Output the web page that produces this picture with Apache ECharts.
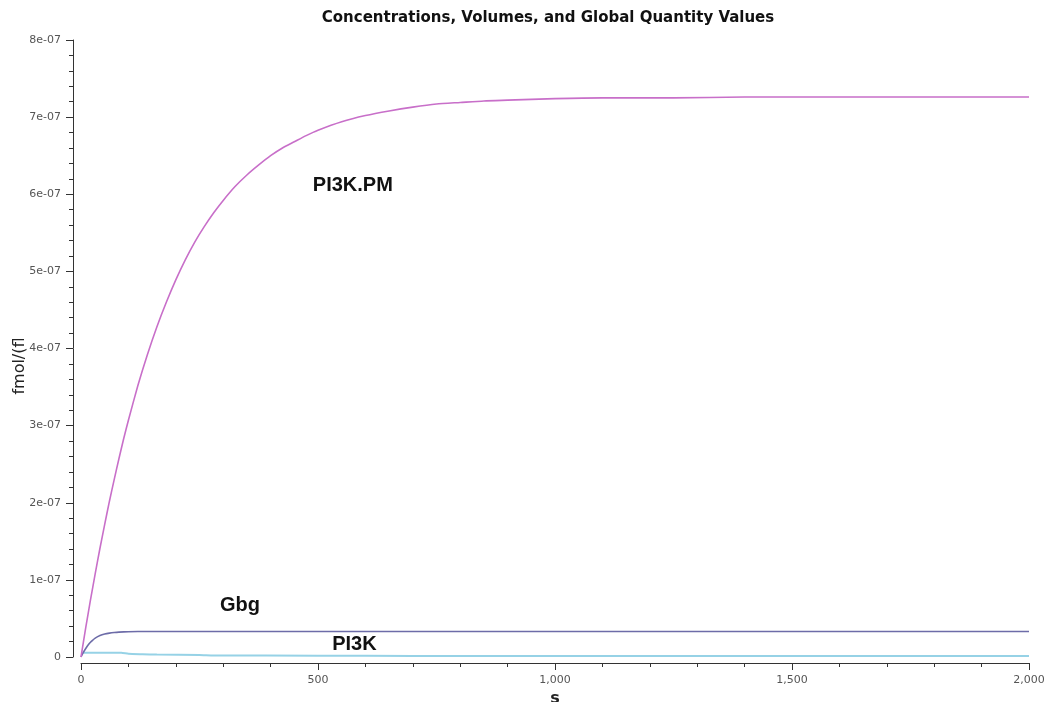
<!DOCTYPE html>
<html>
<head>
<meta charset="utf-8">
<title>Concentrations, Volumes, and Global Quantity Values</title>
<script src="https://cdn.jsdelivr.net/npm/echarts@6/dist/echarts.min.js"></script>
<style>
  html, body { margin: 0; padding: 0; background: #ffffff; }
  #chart { width: 1050px; height: 702px; }
</style>
</head>
<body>
<div id="chart"></div>
<script>
// Simulation time points (s) and species values (fmol/fl)
const timePM = [0, 10, 20, 30, 40, 50, 60, 70, 80, 90, 100, 120, 140, 160, 180, 200, 220, 240, 260, 280, 300,
                325, 350, 375, 400, 425, 450, 475, 500, 550, 600, 650, 700, 750, 800, 850, 900, 1000, 1100, 1250,
                1400, 1600, 1800, 2000];
const pi3kPM = [0, 0.38e-7, 0.74e-7, 1.08e-7, 1.41e-7, 1.72e-7, 2.02e-7, 2.30e-7, 2.57e-7, 2.83e-7, 3.07e-7,
                3.52e-7, 3.92e-7, 4.28e-7, 4.60e-7, 4.89e-7, 5.15e-7, 5.38e-7, 5.58e-7, 5.76e-7, 5.92e-7,
                6.10e-7, 6.25e-7, 6.38e-7, 6.50e-7, 6.60e-7, 6.68e-7, 6.76e-7, 6.83e-7, 6.94e-7, 7.02e-7,
                7.08e-7, 7.13e-7, 7.17e-7, 7.19e-7, 7.21e-7, 7.22e-7, 7.24e-7, 7.25e-7, 7.25e-7,
                7.26e-7, 7.26e-7, 7.26e-7, 7.26e-7];

const timeGbg = [0, 5, 10, 15, 20, 25, 30, 40, 50, 60, 70, 80, 100, 120, 200, 500, 1000, 1500, 2000];
const gbg     = [0, 0.6e-8, 1.1e-8, 1.55e-8, 1.92e-8, 2.2e-8, 2.45e-8, 2.78e-8, 2.98e-8, 3.1e-8, 3.18e-8,
                 3.23e-8, 3.28e-8, 3.3e-8, 3.3e-8, 3.3e-8, 3.3e-8, 3.3e-8, 3.3e-8];

const timePI3K = [0, 50, 85, 100, 130, 160, 250, 280, 500, 700, 1000, 1500, 2000];
const pi3k     = [5.6e-9, 5.5e-9, 5.4e-9, 4.2e-9, 3.6e-9, 3.1e-9, 2.7e-9, 2.1e-9, 1.6e-9, 1.4e-9, 1.3e-9, 1.3e-9, 1.3e-9];

// Tick settings
const xTicks = { min: 0, max: 2000, interval: 500 };
const yTicks = { min: 0, max: 8e-7, interval: 1e-7 };

// Curve annotations: [name, time, value]
const curveLabels = [
  ['PI3K.PM', 489, 6.12e-7],
  ['Gbg', 293, 0.674e-7],
  ['PI3K', 530, 0.156e-7]
];

function zip(xs, ys) { return xs.map((x, i) => [x, ys[i]]); }

function expLabel(v) {
  if (Math.abs(v) < 1e-20) return '0';
  const e = Math.floor(Math.log10(Math.abs(v)) + 1e-9);
  const m = Math.round(v / Math.pow(10, e) * 100) / 100;
  return m + 'e' + (e < 0 ? '-' : '+') + String(Math.abs(e)).padStart(2, '0');
}

function annotation(idx) {
  const [text, t, v] = curveLabels[idx];
  return {
    symbol: 'none',
    silent: true,
    data: [{
      coord: [t, v],
      symbol: 'circle',
      symbolSize: 0,
      label: {
        show: true,
        formatter: text,
        position: 'right',
        distance: 0,
        color: '#111',
        fontFamily: 'Liberation Sans, Arial, sans-serif',
        fontWeight: 'bold',
        fontSize: 20
      }
    }]
  };
}

const chart = echarts.init(document.getElementById('chart'), null, { renderer: 'canvas' });

const axisLabelStyle = {
  color: '#555',
  fontFamily: 'DejaVu Sans, Verdana, sans-serif',
  fontSize: 11
};

chart.setOption({
  animation: false,
  backgroundColor: '#ffffff',
  title: {
    text: 'Concentrations, Volumes, and Global Quantity Values',
    left: 543,
    textAlign: 'center',
    top: 6,
    textStyle: {
      color: '#111',
      fontFamily: 'DejaVu Sans, Verdana, sans-serif',
      fontWeight: 'bold',
      fontSize: 15
    }
  },
  grid: { left: 81, right: 21, top: 40, bottom: 45, containLabel: false, outerBoundsMode: 'none' },
  xAxis: {
    type: 'value',
    min: xTicks.min,
    max: xTicks.max,
    interval: xTicks.interval,
    offset: 6,
    name: 's',
    nameLocation: 'middle',
    nameGap: 26,
    nameTextStyle: {
      color: '#222',
      fontFamily: 'DejaVu Sans, Verdana, sans-serif',
      fontWeight: 'bold',
      fontSize: 16
    },
    axisLine: { show: true, onZero: false, lineStyle: { color: '#333', width: 1 } },
    axisTick: { show: true, inside: false, length: 7, lineStyle: { color: '#333' } },
    minorTick: { show: true, splitNumber: 5, length: 4, lineStyle: { color: '#333' } },
    splitLine: { show: false },
    axisLabel: Object.assign({
      margin: 12,
      formatter: v => v.toLocaleString('en-US')
    }, axisLabelStyle)
  },
  yAxis: {
    type: 'value',
    min: yTicks.min,
    max: yTicks.max,
    interval: yTicks.interval,
    offset: 8,
    axisLine: { show: true, onZero: false, lineStyle: { color: '#333', width: 1 } },
    axisTick: { show: true, inside: false, length: 7, lineStyle: { color: '#333' } },
    minorTick: { show: true, splitNumber: 5, length: 4, lineStyle: { color: '#333' } },
    splitLine: { show: false },
    axisLabel: Object.assign({
      margin: 12,
      formatter: expLabel
    }, axisLabelStyle)
  },
  graphic: [{
    type: 'text',
    x: 20,
    y: 366,
    rotation: Math.PI / 2,
    style: {
      text: 'fmol/(fl',
      fill: '#222',
      font: '16px "DejaVu Sans", Verdana, sans-serif',
      textAlign: 'center',
      textVerticalAlign: 'middle'
    }
  }],
  series: [
    {
      name: 'PI3K.PM',
      type: 'line',
      data: zip(timePM, pi3kPM),
      smooth: 0.2,
      showSymbol: false,
      lineStyle: { color: '#c86fc9', width: 1.6 },
      itemStyle: { color: '#c86fc9' },
      markPoint: annotation(0),
      z: 3
    },
    {
      name: 'Gbg',
      type: 'line',
      data: zip(timeGbg, gbg),
      smooth: 0.2,
      showSymbol: false,
      lineStyle: { color: '#6d6ca8', width: 1.6 },
      itemStyle: { color: '#6d6ca8' },
      markPoint: annotation(1),
      z: 2
    },
    {
      name: 'PI3K',
      type: 'line',
      data: zip(timePI3K, pi3k),
      smooth: 0.2,
      showSymbol: false,
      lineStyle: { color: '#96d2e6', width: 2 },
      itemStyle: { color: '#96d2e6' },
      markPoint: annotation(2),
      z: 1
    }
  ]
});
</script>
</body>
</html>
